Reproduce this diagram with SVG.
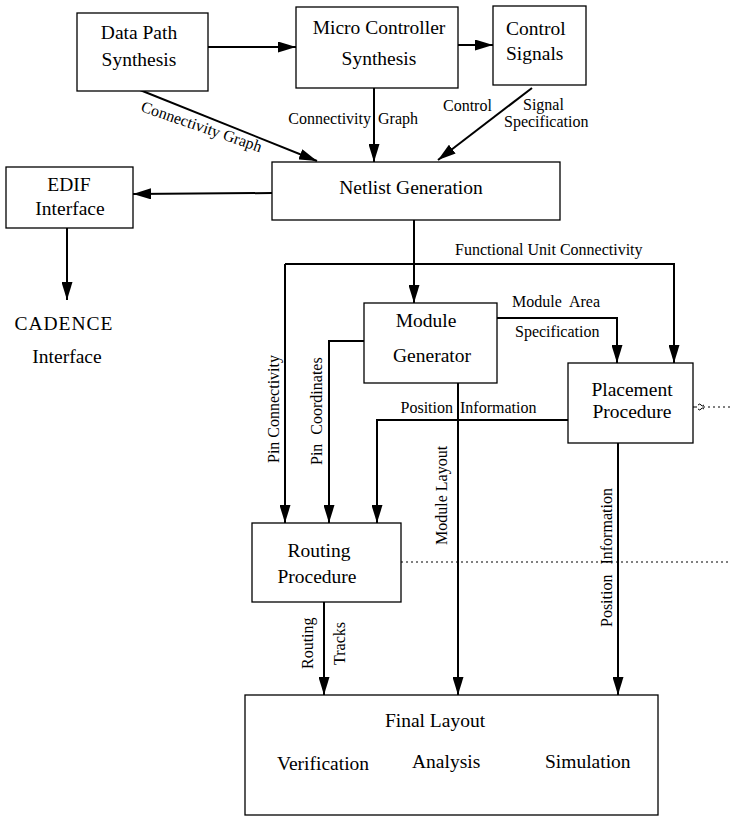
<svg xmlns="http://www.w3.org/2000/svg" width="731" height="818" viewBox="0 0 731 818">
  <defs>
    <marker id="arrow" markerUnits="userSpaceOnUse" markerWidth="18" markerHeight="11" refX="18" refY="5.5" orient="auto">
      <path d="M0,0 L18,5.5 L0,11 Z" fill="#000"/>
    </marker>
  </defs>
  <style>
    .box { fill: #fff; stroke: #000; stroke-width: 1.3; }
    .node { font-family: "Liberation Serif", "Times New Roman", serif; font-size: 19.5px; fill: #000; }
    .lbl { font-family: "Liberation Serif", "Times New Roman", serif; font-size: 16px; fill: #000; }
    .mid { text-anchor: middle; }
    .end { text-anchor: end; }
    .wire { fill: none; stroke: #000; stroke-width: 2; }
    .arr { marker-end: url(#arrow); }
    .dot { fill: none; stroke: #000; stroke-width: 1; stroke-dasharray: 2 3; }
  </style>
  <rect width="731" height="818" fill="#fff"/>

  <!-- connectors -->
  <g id="connectors">
    <path class="wire arr" d="M208,47 L296,47"/>
    <path class="wire arr" d="M458,45 L493,45"/>
    <path class="wire arr" d="M140,90 L317,161"/>
    <path class="wire arr" d="M374,88 L374,162"/>
    <path class="wire arr" d="M532,88 L438,160"/>
    <path class="wire arr" d="M272,193 L133,194"/>
    <path class="wire arr" d="M67,228 L67,300"/>
    <path class="wire arr" d="M414,220 L414,303"/>
    <path class="wire arr" d="M285,264 L674,264 L674,363"/>
    <path class="wire arr" d="M285,264 L285,523"/>
    <path class="wire arr" d="M497,318 L617,318 L617,363"/>
    <path class="wire arr" d="M364,341 L329,341 L329,523"/>
    <path class="wire arr" d="M568,420 L377,420 L377,523"/>
    <path class="wire arr" d="M458,383 L458,695"/>
    <path class="wire arr" d="M324,602 L324,695"/>
    <path class="wire arr" d="M618,443 L618,695"/>
    <path class="dot" d="M401,562 L731,562"/>
    <path class="dot" d="M703,407 L731,407"/>
    <path fill="none" stroke="#000" stroke-width="1" d="M693,407 L697,407 M698,405 q2,-2 3,0 q1,2 3,0 M698,409 q2,2 3,0 q1,-2 3,0"/>
  </g>

  <!-- connector labels -->
  <g id="labels">
    <text class="lbl" transform="translate(140,111) rotate(19)">Connectivity Graph</text>
    <text class="lbl end" x="371" y="124">Connectivity</text>
    <text class="lbl" x="378" y="124">Graph</text>
    <text class="lbl" x="443" y="111">Control</text>
    <text class="lbl" x="523" y="110">Signal</text>
    <text class="lbl" x="504" y="127">Specification</text>
    <text class="lbl" x="455" y="255">Functional Unit Connectivity</text>
    <text class="lbl" x="512" y="307" word-spacing="4">Module Area</text>
    <text class="lbl" x="515" y="337">Specification</text>
    <text class="lbl end" x="453" y="413">Position</text>
    <text class="lbl" x="460" y="413">Information</text>
    <text class="lbl" transform="translate(279,463) rotate(-90)">Pin Connectivity</text>
    <text class="lbl" transform="translate(322,465) rotate(-90)" word-spacing="5">Pin Coordinates</text>
    <text class="lbl" transform="translate(447,545) rotate(-90)">Module Layout</text>
    <text class="lbl" transform="translate(313,669) rotate(-90)">Routing</text>
    <text class="lbl" transform="translate(345,665) rotate(-90)">Tracks</text>
    <text class="lbl" transform="translate(612,627) rotate(-90)" word-spacing="6">Position Information</text>
  </g>

  <!-- nodes -->
  <g id="data-path-synthesis">
    <rect class="box" x="77" y="13" width="131" height="78"/>
    <text class="node mid" x="139" y="39">Data Path</text>
    <text class="node mid" x="139" y="66">Synthesis</text>
  </g>
  <g id="micro-controller-synthesis">
    <rect class="box" x="296" y="7" width="162" height="81"/>
    <text class="node mid" x="379" y="34">Micro Controller</text>
    <text class="node mid" x="379" y="65">Synthesis</text>
  </g>
  <g id="control-signals">
    <rect class="box" x="493" y="6" width="93" height="79"/>
    <text class="node" x="506" y="35">Control</text>
    <text class="node" x="506" y="60">Signals</text>
  </g>
  <g id="netlist-generation">
    <rect class="box" x="272" y="162" width="288" height="58"/>
    <text class="node mid" x="411" y="194">Netlist Generation</text>
  </g>
  <g id="edif-interface">
    <rect class="box" x="6" y="167" width="127" height="61"/>
    <text class="node mid" x="69" y="191">EDIF</text>
    <text class="node mid" x="70" y="215">Interface</text>
  </g>
  <g id="cadence-interface">
    <text class="node mid" x="64" y="330" letter-spacing="1">CADENCE</text>
    <text class="node mid" x="67" y="363">Interface</text>
  </g>
  <g id="module-generator">
    <rect class="box" x="364" y="303" width="133" height="80"/>
    <text class="node mid" x="426" y="327">Module</text>
    <text class="node mid" x="432" y="362">Generator</text>
  </g>
  <g id="placement-procedure">
    <rect class="box" x="568" y="363" width="125" height="80"/>
    <text class="node mid" x="632" y="396">Placement</text>
    <text class="node mid" x="632" y="418">Procedure</text>
  </g>
  <g id="routing-procedure">
    <rect class="box" x="252" y="523" width="149" height="79"/>
    <text class="node mid" x="319" y="557">Routing</text>
    <text class="node mid" x="317" y="583">Procedure</text>
  </g>
  <g id="final-layout">
    <rect class="box" x="245" y="695" width="413" height="120"/>
    <text class="node mid" x="435" y="727">Final Layout</text>
    <text class="node" x="277" y="770">Verification</text>
    <text class="node" x="412" y="768">Analysis</text>
    <text class="node" x="545" y="768">Simulation</text>
  </g>
</svg>
